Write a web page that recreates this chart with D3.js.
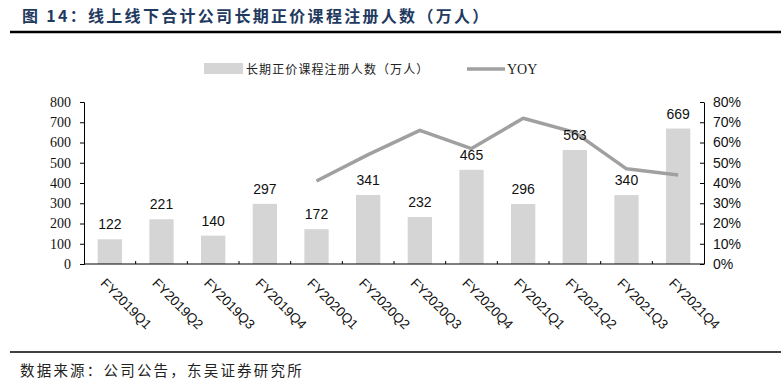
<!DOCTYPE html>
<html>
<head>
<meta charset="utf-8">
<title>线上线下合计公司长期正价课程注册人数</title>
<script src="https://d3js.org/d3.v7.min.js"></script>
<style>
  body { margin: 0; background: #fff; }
</style>
</head>
<body>
<svg id="chart" width="781" height="388"></svg>
<script>
// ---------- data ----------
var quarters = ["FY2019Q1", "FY2019Q2", "FY2019Q3", "FY2019Q4", "FY2020Q1", "FY2020Q2",
                "FY2020Q3", "FY2020Q4", "FY2021Q1", "FY2021Q2", "FY2021Q3", "FY2021Q4"];
var enrolments = [122, 221, 140, 297, 172, 341, 232, 465, 296, 563, 340, 669];
// YoY (%), only from FY2020Q1 on
var yoyQuarters = ["FY2020Q1", "FY2020Q2", "FY2020Q3", "FY2020Q4",
                   "FY2021Q1", "FY2021Q2", "FY2021Q3", "FY2021Q4"];
var yoyValues = [41, 54, 66, 57, 72, 65, 47, 44];
var leftTicks = [0, 100, 200, 300, 400, 500, 600, 700, 800];
var rightTicks = [0, 10, 20, 30, 40, 50, 60, 70, 80];

var titleText = "图 14：线上线下合计公司长期正价课程注册人数（万人）";
var sourceText = "数据来源：公司公告，东吴证券研究所";
var barName = "长期正价课程注册人数（万人）";
var lineName = "YOY";

// ---------- layout ----------
var svg = d3.select("#chart");
var plotL = 84, plotR = 704, plotT = 102, plotB = 264;

var x = d3.scaleBand().domain(quarters).range([plotL, plotR]).paddingInner(0.53).paddingOuter(0.265);
var band = d3.scaleBand().domain(quarters).range([plotL, plotR]);
var y = d3.scaleLinear().domain([0, 800]).range([plotB, plotT]);
var y2 = d3.scaleLinear().domain([0, 80]).range([plotB, plotT]);

var cjk = "'Noto Sans CJK SC', sans-serif";
var serif = "'Liberation Serif', 'Times New Roman', serif";
var sans = "'Liberation Sans', Arial, sans-serif";

// title + rules
svg.append("text")
    .attr("x", 22).attr("y", 22)
    .style("font-family", cjk).style("font-weight", "bold")
    .style("font-size", "16px").style("letter-spacing", "2.3px")
    .attr("fill", "#1f3a5f")
    .text(titleText);
svg.append("line").attr("x1", 10).attr("x2", 781).attr("y1", 32).attr("y2", 32)
    .attr("stroke", "#000").attr("stroke-width", 2.5);
svg.append("line").attr("x1", 10).attr("x2", 781).attr("y1", 352).attr("y2", 352)
    .attr("stroke", "#000").attr("stroke-width", 1.6);
svg.append("text")
    .attr("x", 20).attr("y", 376)
    .style("font-family", cjk).style("font-size", "14.5px").style("letter-spacing", "2.2px")
    .attr("fill", "#222")
    .text(sourceText);

// legend
svg.append("rect").attr("x", 204).attr("y", 63).attr("width", 39).attr("height", 11)
    .attr("fill", "#d5d5d5");
svg.append("text").attr("x", 246).attr("y", 73.5)
    .style("font-family", cjk).style("font-size", "12px").style("letter-spacing", "1.1px")
    .attr("fill", "#222").text(barName);
svg.append("line").attr("x1", 467).attr("x2", 505).attr("y1", 69).attr("y2", 69)
    .attr("stroke", "#a0a0a0").attr("stroke-width", 3.5);
svg.append("text").attr("x", 507).attr("y", 74)
    .style("font-family", serif).style("font-size", "14px")
    .attr("fill", "#222").text(lineName);

// bars
svg.selectAll("rect.bar")
    .data(enrolments)
    .enter()
    .append("rect")
    .attr("class", "bar")
    .attr("x", (d, i) => x(quarters[i]))
    .attr("width", x.bandwidth())
    .attr("y", d => y(d))
    .attr("height", d => plotB - y(d))
    .attr("fill", "#d5d5d5");

// yoy line
var line = d3.line()
    .x((d, i) => band(yoyQuarters[i]) + band.bandwidth() / 2)
    .y(d => y2(d));
svg.append("path")
    .datum(yoyValues)
    .attr("d", line)
    .attr("fill", "none")
    .attr("stroke", "#a0a0a0")
    .attr("stroke-width", 3.5)
    .attr("stroke-linejoin", "round");

// bar labels (drawn over the line)
svg.selectAll("text.lab")
    .data(enrolments)
    .enter()
    .append("text")
    .attr("class", "lab")
    .attr("x", (d, i) => band(quarters[i]) + band.bandwidth() / 2)
    .attr("y", d => y(d) - 10)
    .attr("text-anchor", "middle")
    .style("font-family", sans).style("font-size", "14px")
    .attr("fill", "#111")
    .text(d => d);

// left axis
var gL = svg.append("g")
    .attr("transform", "translate(" + plotL + ",0)")
    .call(d3.axisLeft(y).tickValues(leftTicks).tickSize(4).tickPadding(9).tickFormat(d3.format("d")));
gL.selectAll("text").style("font-family", serif).style("font-size", "14px").attr("fill", "#111");

// right axis (ticks inward)
var gR = svg.append("g")
    .attr("transform", "translate(" + plotR + ",0)")
    .call(d3.axisRight(y2).tickValues(rightTicks).tickSize(0).tickPadding(9).tickFormat(d => d + "%"));
gR.selectAll(".tick line").attr("x2", -4);
gR.selectAll("text").style("font-family", sans).style("font-size", "14px").attr("fill", "#111");

// bottom axis, ticks at category boundaries pointing up
var gB = svg.append("g").attr("transform", "translate(0," + plotB + ")");
gB.append("line").attr("x1", plotL).attr("x2", plotR).attr("stroke", "#000");
gB.selectAll("line.tk")
    .data(quarters.slice(1))
    .enter()
    .append("line")
    .attr("class", "tk")
    .attr("x1", d => band(d)).attr("x2", d => band(d))
    .attr("y1", 0).attr("y2", -3)
    .attr("stroke", "#000");
gB.selectAll("text")
    .data(quarters)
    .enter()
    .append("text")
    .attr("transform", d => "translate(" + (band(d) + band.bandwidth() / 2 - 10) + ",20) rotate(45)")
    .style("font-family", sans).style("font-size", "13.5px")
    .attr("fill", "#111")
    .text(d => d);

svg.selectAll(".domain").attr("stroke", "#000");
svg.selectAll(".tick line").attr("stroke", "#000");
</script>
</body>
</html>
